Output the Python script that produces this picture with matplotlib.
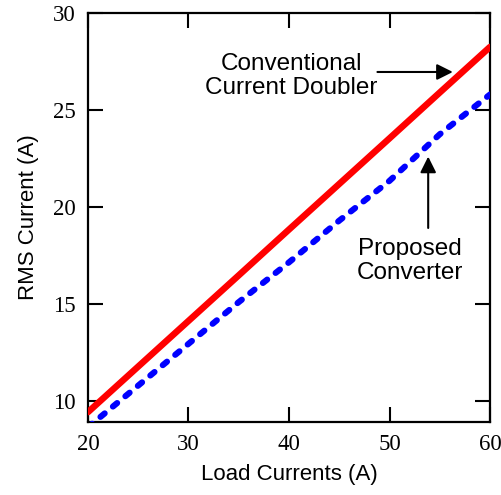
import matplotlib
matplotlib.use("Agg")
import matplotlib.pyplot as plt

load_current = [20, 25, 30, 35, 40, 45, 50, 55, 60]
conventional = [9.43, 11.78, 14.13, 16.48, 18.84, 21.19, 23.54, 25.9, 28.25]
proposed = [8.65, 10.8, 12.95, 15.1, 17.15, 19.3, 21.35, 23.75, 25.8]

x_ticks = [20, 30, 40, 50, 60]
y_ticks = [10, 15, 20, 25, 30]

fig = plt.figure(figsize=(5.02, 4.95), dpi=100)
ax = fig.add_axes([88/502, 1-422/495, (490-88)/502, (422-13)/495])

ax.plot(load_current, conventional, color="#ff0000", lw=4.7, solid_capstyle="round", zorder=3)
ax.plot(load_current, proposed, color="#0000ff", lw=4.4, ls=(0, (0.9, 1.75)),
        dash_capstyle="round", zorder=3)

ax.set_xlim(20, 60)
ax.set_ylim(8.92, 30)
ax.set_xticks(x_ticks)
ax.set_yticks(y_ticks)

serif = "Liberation Serif"
sans = "Liberation Sans"
ax.tick_params(direction="in", length=11, width=1.5, top=True, right=True,
               labelsize=16.5, pad=9)
for lab in ax.get_xticklabels() + ax.get_yticklabels():
    lab.set_fontfamily(serif)
for s in ax.spines.values():
    s.set_linewidth(1.6)

ax.set_xlabel("Load Currents (A)", fontsize=16, family=sans, labelpad=6)
ax.set_ylabel("RMS Current (A)", fontsize=16, family=sans, labelpad=10)

ax.text(40.2, 26.75, "Conventional\nCurrent Doubler", fontsize=17.5, family=sans,
        ha="center", va="center", linespacing=1.15)
ax.annotate("", xy=(56.3, 26.96), xytext=(48.8, 26.96),
            arrowprops=dict(arrowstyle="-|>", color="black", lw=1.5,
                            mutation_scale=24, shrinkA=0, shrinkB=0))
ax.text(52.0, 17.22, "Proposed\nConverter", fontsize=17.5, family=sans,
        ha="center", va="center", linespacing=1.15)
ax.annotate("", xy=(53.85, 22.6), xytext=(53.85, 18.92),
            arrowprops=dict(arrowstyle="-|>", color="black", lw=1.5,
                            mutation_scale=24, shrinkA=0, shrinkB=0))

fig.savefig("out.png", dpi=100)
